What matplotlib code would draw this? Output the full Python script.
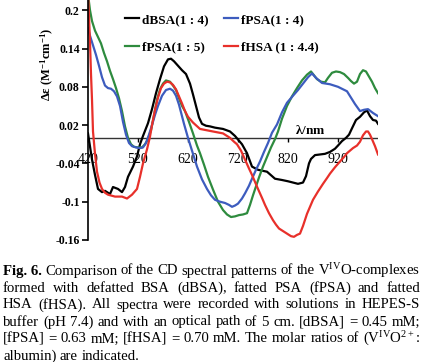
import matplotlib
matplotlib.use('Agg')
import matplotlib.pyplot as plt

plt.rcParams['font.family'] = ['Liberation Serif', 'DejaVu Serif']
plt.rcParams['mathtext.fontset'] = 'custom'
plt.rcParams['mathtext.rm'] = 'Liberation Serif'
plt.rcParams['mathtext.bf'] = 'Liberation Serif:bold'
plt.rcParams['mathtext.it'] = 'Liberation Serif:italic'

# dBSA (1:4)
dbsa_nm = [420, 428, 434, 440, 448, 454, 464, 470, 480, 488, 494, 500, 510, 518, 524, 530,
           540, 548, 556, 564, 572, 580, 586, 592, 600, 608, 616, 624, 630, 636, 642, 648,
           656, 664, 674, 690, 704, 714, 728, 738, 748, 760, 778, 794, 808, 820, 830, 840,
           850, 856, 862, 866, 874, 884, 894, 904, 914, 920, 928, 936, 942, 948, 956, 964,
           972, 978, 984, 990, 996, 1000]
dbsa_de = [0.007, -0.034, -0.058, -0.080, -0.085, -0.083, -0.088, -0.077, -0.080, -0.085, -0.077, -0.061,
           -0.045, -0.029, -0.010, 0.003, 0.023, 0.045, 0.070, 0.092, 0.112, 0.123, 0.124, 0.120,
           0.113, 0.106, 0.100, 0.085, 0.068, 0.050, 0.032, 0.022, 0.019, 0.018, 0.016, 0.014,
           0.010, 0.003, -0.010, -0.024, -0.045, -0.050, -0.053, -0.064, -0.066, -0.068, -0.070,
           -0.072, -0.070, -0.060, -0.040, -0.033, -0.027, -0.026, -0.025, -0.022, -0.017, -0.012,
           -0.005, 0.000, 0.005, 0.015, 0.028, 0.033, 0.040, 0.043, 0.034, 0.028, 0.027, 0.022]

# fPSA (1:4)
fpsa4_nm = [420, 424, 430, 436, 442, 448, 454, 460, 466, 472, 478, 484, 490, 496, 502, 508,
            516, 524, 530, 536, 542, 548, 554, 560, 568, 576, 584, 590, 596, 602, 606, 612,
            620, 628, 638, 648, 658, 666, 674, 684, 694, 702, 708, 714, 720, 728, 734, 742,
            748, 756, 764, 772, 780, 788, 798, 808, 818, 830, 840, 850, 860, 868, 876, 888,
            904, 920, 938, 954, 964, 972, 980, 990, 1000]
fpsa4_de = [0.172, 0.160, 0.145, 0.130, 0.113, 0.095, 0.082, 0.078, 0.077, 0.073, 0.065, 0.050,
            0.025, 0.005, -0.008, -0.013, -0.015, -0.016, -0.015, -0.008, 0.005, 0.020, 0.036,
            0.050, 0.066, 0.075, 0.077, 0.074, 0.066, 0.052, 0.040, 0.022, 0.000, -0.020, -0.045,
            -0.065, -0.080, -0.090, -0.097, -0.100, -0.102, -0.105, -0.108, -0.106, -0.103,
            -0.095, -0.087, -0.075, -0.064, -0.050, -0.037, -0.022, -0.008, 0.008, 0.021, 0.040,
            0.055, 0.066, 0.075, 0.085, 0.095, 0.101, 0.094, 0.086, 0.084, 0.080, 0.073, 0.053,
            0.042, 0.044, 0.045, 0.039, 0.034]

# fPSA (1:5)
fpsa5_nm = [420, 424, 428, 434, 440, 446, 452, 458, 464, 470, 476, 482, 488, 494, 500, 506,
            512, 520, 528, 534, 540, 546, 552, 558, 564, 570, 576, 584, 590, 596, 602, 608,
            614, 622, 630, 638, 644, 652, 660, 670, 680, 690, 698, 706, 714, 722, 730, 738,
            744, 750, 756, 762, 770, 778, 786, 794, 800, 808, 818, 828, 838, 848, 858, 866,
            872, 878, 886, 894, 900, 908, 916, 924, 932, 940, 946, 952, 958, 964, 970, 976,
            982, 988, 994, 1000]
fpsa5_de = [0.225, 0.200, 0.183, 0.168, 0.158, 0.148, 0.133, 0.120, 0.105, 0.092, 0.078, 0.062,
            0.042, 0.018, 0.000, -0.010, -0.014, -0.015, -0.015, -0.010, -0.002, 0.012, 0.035,
            0.060, 0.076, 0.085, 0.090, 0.088, 0.082, 0.075, 0.062, 0.050, 0.042, 0.025, 0.007,
            -0.012, -0.024, -0.042, -0.061, -0.081, -0.100, -0.113, -0.120, -0.124, -0.123,
            -0.121, -0.120, -0.118, -0.105, -0.090, -0.076, -0.062, -0.045, -0.030, -0.015,
            -0.002, 0.010, 0.030, 0.050, 0.065, 0.078, 0.090, 0.099, 0.104, 0.098, 0.092, 0.088,
            0.087, 0.094, 0.102, 0.104, 0.103, 0.100, 0.094, 0.089, 0.085, 0.088, 0.100, 0.106,
            0.104, 0.096, 0.088, 0.078, 0.070]

# fHSA (1:4.4)
fhsa_nm = [420, 422, 424, 426, 428, 430, 434, 438, 443, 448, 454, 460, 474, 488, 498, 508,
           518, 524, 530, 538, 544, 548, 554, 560, 566, 572, 578, 584, 590, 596, 602, 608,
           614, 620, 630, 644, 670, 690, 704, 712, 718, 726, 734, 742, 748, 754, 760, 768,
           774, 782, 790, 796, 802, 810, 818, 826, 832, 838, 844, 850, 858, 864, 870, 880,
           890, 898, 904, 914, 924, 932, 938, 944, 950, 958, 964, 970, 976, 980, 984, 988,
           994, 1000]
fhsa_de = [0.230, 0.190, 0.150, 0.100, 0.060, 0.010, -0.025, -0.053, -0.070, -0.080, -0.086,
           -0.089, -0.092, -0.092, -0.095, -0.089, -0.080, -0.061, -0.040, -0.018, 0.002,
           0.020, 0.044, 0.063, 0.078, 0.085, 0.088, 0.087, 0.083, 0.076, 0.065, 0.054, 0.042,
           0.033, 0.024, 0.014, 0.010, 0.007, 0.000, -0.006, -0.010, -0.020, -0.034, -0.048,
           -0.058, -0.069, -0.080, -0.094, -0.105, -0.118, -0.129, -0.136, -0.142, -0.146,
           -0.150, -0.154, -0.155, -0.152, -0.150, -0.138, -0.119, -0.108, -0.097, -0.084,
           -0.072, -0.063, -0.056, -0.046, -0.037, -0.030, -0.024, -0.020, -0.016, -0.012,
           -0.006, 0.004, 0.010, 0.010, 0.005, -0.002, -0.013, -0.026]

series = [
    ('dBSA(1 : 4)', dbsa_nm, dbsa_de, 'black'),
    ('fPSA(1 : 5)', fpsa5_nm, fpsa5_de, '#2E8B3E'),
    ('fPSA(1 : 4)', fpsa4_nm, fpsa4_de, '#3D5CBE'),
    ('fHSA (1 : 4.4)', fhsa_nm, fhsa_de, '#E8302A'),
]

x_ticks = [420, 520, 620, 720, 820, 920]
y_ticks = [0.2, 0.14, 0.08, 0.02, -0.04, -0.1, -0.16]
y_tick_labels = ['0.2', '0.14', '0.08', '0.02', '-0.04', '-0.1', '-0.16']

caption = [
    ([('Fig. 6.', 'bold'), ('Comparison', 'normal'), ('of', 'normal'), ('the', 'normal'),
      ('CD', 'normal'), ('spectral', 'normal'), ('patterns', 'normal'), ('of', 'normal'),
      ('the', 'normal'), (r'V$^{\mathrm{IV}}$O-complexes', 'normal')], True),
    ([(w, 'normal') for w in 'formed with defatted BSA (dBSA), fatted PSA (fPSA) and fatted'.split()], True),
    ([(w, 'normal') for w in 'HSA (fHSA). All spectra were recorded with solutions in HEPES-S'.split()], True),
    ([(w, 'normal') for w in 'buffer (pH 7.4) and with an optical path of 5 cm. [dBSA] = 0.45 mM;'.split()], True),
    ([(w, 'normal') for w in '[fPSA] = 0.63 mM; [fHSA] = 0.70 mM. The molar ratios of'.split()]
     + [(r'(V$^{\mathrm{IV}}$O$^{2+}$:', 'normal')], True),
    ([(w, 'normal') for w in 'albumin) are indicated.'.split()], False),
]

W, H = 421, 362


def draw(ax):
    for label, x, y, c in series:
        ax.plot(x, y, color=c, lw=1.6, label=label)
    ax.axhline(0, color='#333333', lw=1.0, zorder=1)
    ax.set_xlim(420, 1000)
    ax.set_ylim(-0.16, 0.216)
    for s in ['top', 'right']:
        ax.spines[s].set_visible(False)
    ax.spines['left'].set_linewidth(1.2)
    ax.set_xticks(x_ticks)
    ax.set_xticklabels([str(v) for v in x_ticks], fontsize=8.5, fontweight='bold')
    ax.set_yticks(y_ticks)
    ax.set_yticklabels(y_tick_labels, fontsize=8.5, fontweight='bold')
    ax.tick_params(axis='y', direction='out', length=4, width=1.2, pad=2)
    ax.tick_params(axis='x', direction='out', length=3, width=1.0, pad=8)
    ax.xaxis.set_ticks_position('bottom')
    # x ticks sit on the zero line
    ax.spines['bottom'].set_position(('data', 0))
    ax.spines['bottom'].set_linewidth(0)
    ax.text(864, 0.002, r'$\mathbf{\lambda}$/nm', fontsize=9.5, fontweight='bold',
            ha='center', va='bottom')
    ax.set_ylabel(r'Δε (M$^{\mathbf{-1}}$cm$^{\mathbf{-1}}$)', fontsize=9, fontweight='bold')
    ax.yaxis.set_label_coords(-0.112, 0.73)
    ax.legend(ncol=2, loc='upper left', bbox_to_anchor=(0.11, 0.965), frameon=False,
              prop={'weight': 'bold', 'size': 9.5}, handlelength=1.05, handletextpad=0.2,
              labelspacing=1.15, columnspacing=1.2, borderaxespad=0)


def write_caption(fig):
    renderer = fig.canvas.get_renderer()
    left, right = 3, 420
    y0, dy = 274.5, 17.0
    for i, (words, justify) in enumerate(caption):
        texts = [fig.text(0, 0, w, fontsize=10.6, fontweight=wt, va='baseline') for w, wt in words]
        widths = [t.get_window_extent(renderer).width for t in texts]
        if justify:
            gap = (right - left - sum(widths)) / (len(words) - 1)
        else:
            gap = 3.5
        x = left
        y = y0 + i * dy
        for t, w in zip(texts, widths):
            t.set_position((x / W, 1 - y / H))
            x += w + gap


def main():
    fig = plt.figure(figsize=(W / 100, H / 100), dpi=100)
    ax = fig.add_axes([88 / W, 1 - 240 / H, (378 - 88) / W, 240 / H])
    draw(ax)
    write_caption(fig)
    fig.savefig('out.png', dpi=100)


if __name__ == '__main__':
    main()
